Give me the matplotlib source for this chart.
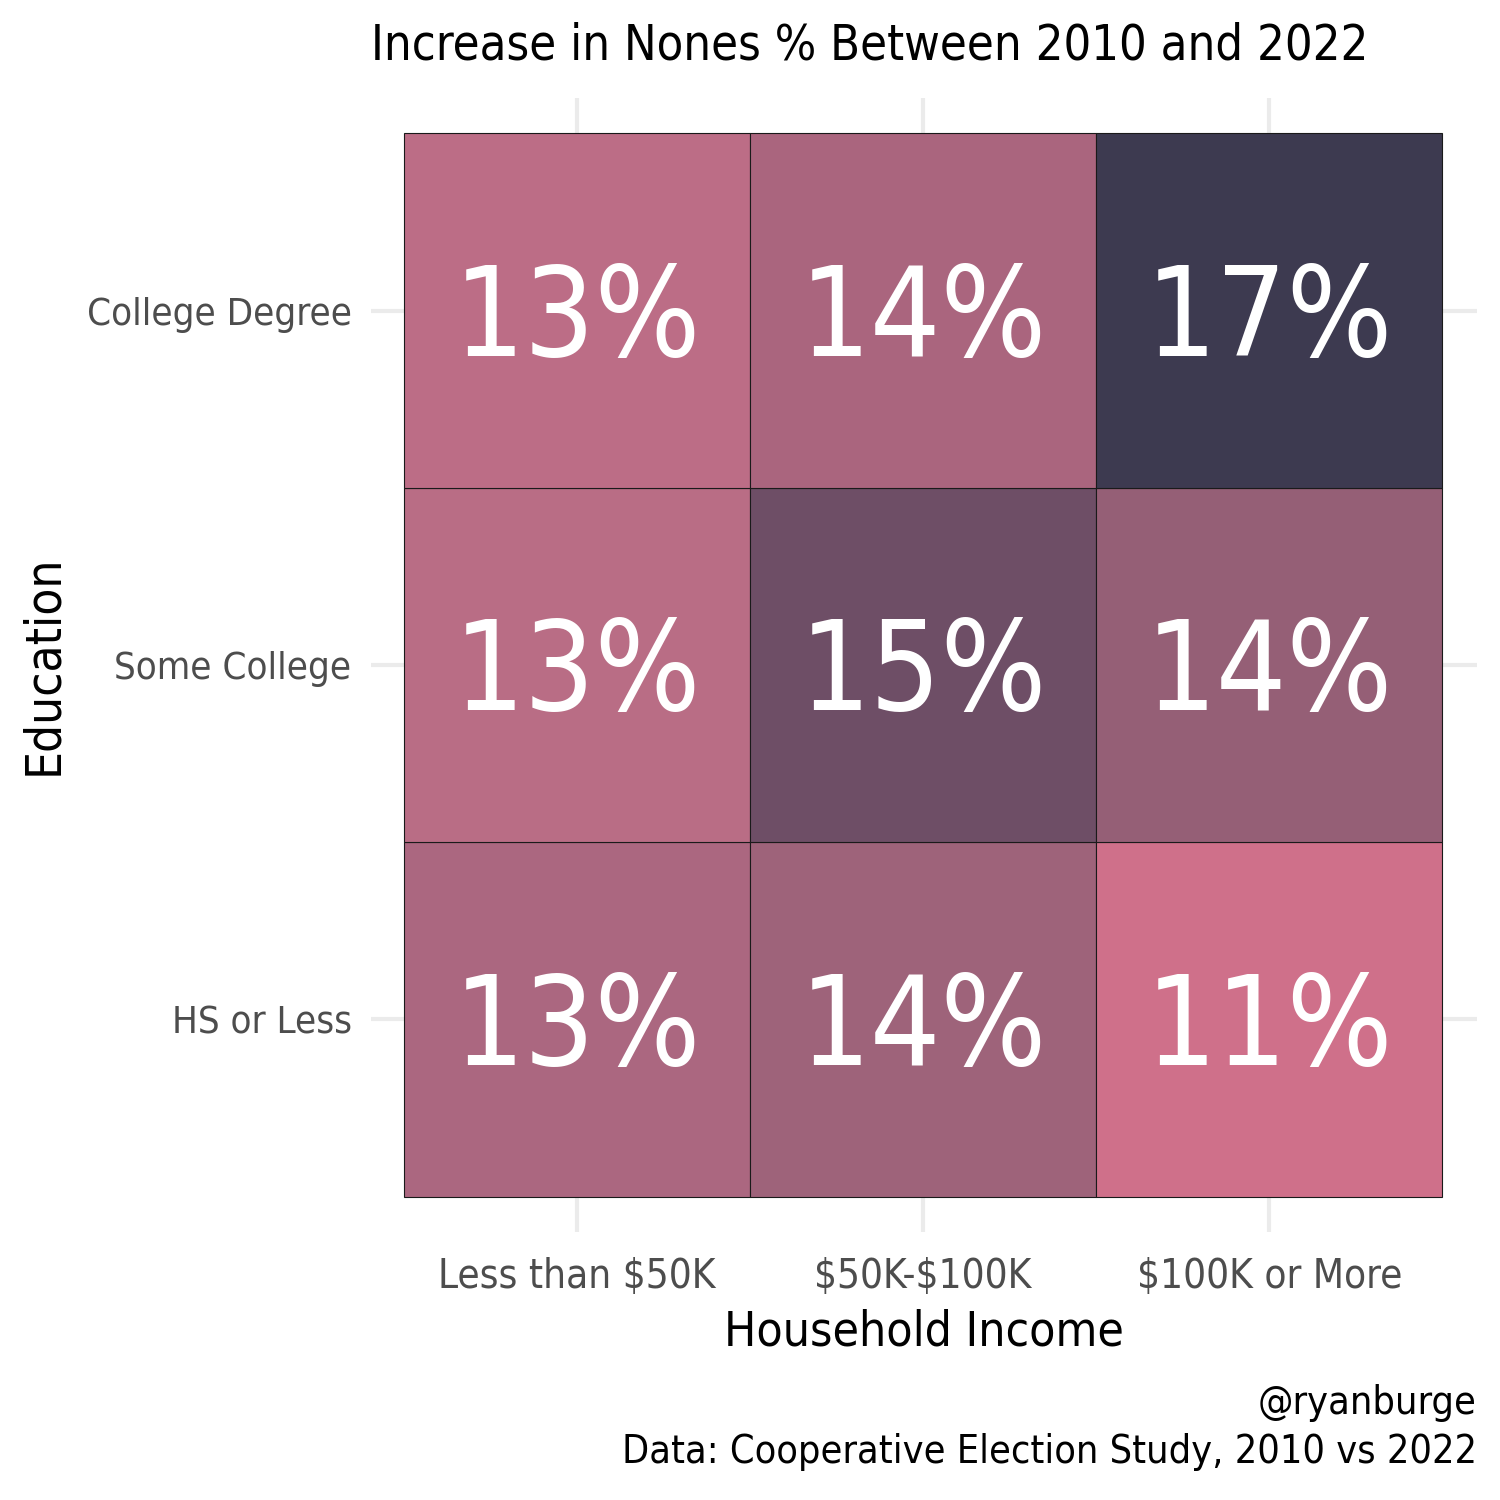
import matplotlib.pyplot as plt
from matplotlib.patches import Rectangle

plt.rcParams['font.family'] = ['DejaVu Sans']
plt.rcParams['font.stretch'] = 'condensed'
plt.rcParams['text.parse_math'] = False

income = ["Less than $50K", "$50K-$100K", "$100K or More"]
education = ["HS or Less", "Some College", "College Degree"]

# rows follow education (bottom to top), columns follow income
pct = [
    [13, 14, 11],
    [13, 15, 14],
    [13, 14, 17],
]
cell_colors = [
    ["#AB6780", "#9E637A", "#CF708A"],
    ["#B96D85", "#6E4E66", "#955F76"],
    ["#BC6D86", "#AA657E", "#3D3A50"],
]

fig = plt.figure(figsize=(15, 15), dpi=100)
ax = fig.add_axes([371 / 1500, 1 - 1232 / 1500, (1477 - 371) / 1500, (1232 - 98) / 1500])

for i, row in enumerate(pct):
    for j, v in enumerate(row):
        ax.add_patch(Rectangle((j + 0.5, i + 0.5), 1, 1, facecolor=cell_colors[i][j],
                               edgecolor="#1a1a1a", linewidth=0.8, zorder=2))
        ax.text(j + 1, i + 1 - 0.128, f"{v}%", ha="center", va="baseline", color="white",
                fontsize=89, zorder=3)

ax.set_xlim(0.405, 3.6)
ax.set_ylim(0.4, 3.6)
ax.set_xticks([1, 2, 3])
ax.set_xticklabels(income)
ax.set_yticks([1, 2, 3])
ax.set_yticklabels(education)
ax.grid(True, color="#EBEBEB", linewidth=3, zorder=0)
ax.set_axisbelow(True)
for s in ax.spines.values():
    s.set_visible(False)
ax.tick_params(length=0, labelcolor="#4D4D4D")
ax.tick_params(axis="x", labelsize=29, pad=18)
ax.tick_params(axis="y", labelsize=27.5, pad=14)

ax.set_xlabel("Household Income", fontsize=34.5, labelpad=8)
ax.set_ylabel("Education", fontsize=35.5, labelpad=14)
fig.text(870 / 1500, 1 - 45 / 1500, "Increase in Nones % Between 2010 and 2022",
         ha="center", va="center", fontsize=35)
fig.text(1477 / 1500, 1 - 1403 / 1500, "@ryanburge", ha="right", va="center", fontsize=28.4)
fig.text(1477 / 1500, 1 - 1452 / 1500, "Data: Cooperative Election Study, 2010 vs 2022",
         ha="right", va="center", fontsize=28.4)

fig.savefig("out.png", dpi=100, facecolor="white")
